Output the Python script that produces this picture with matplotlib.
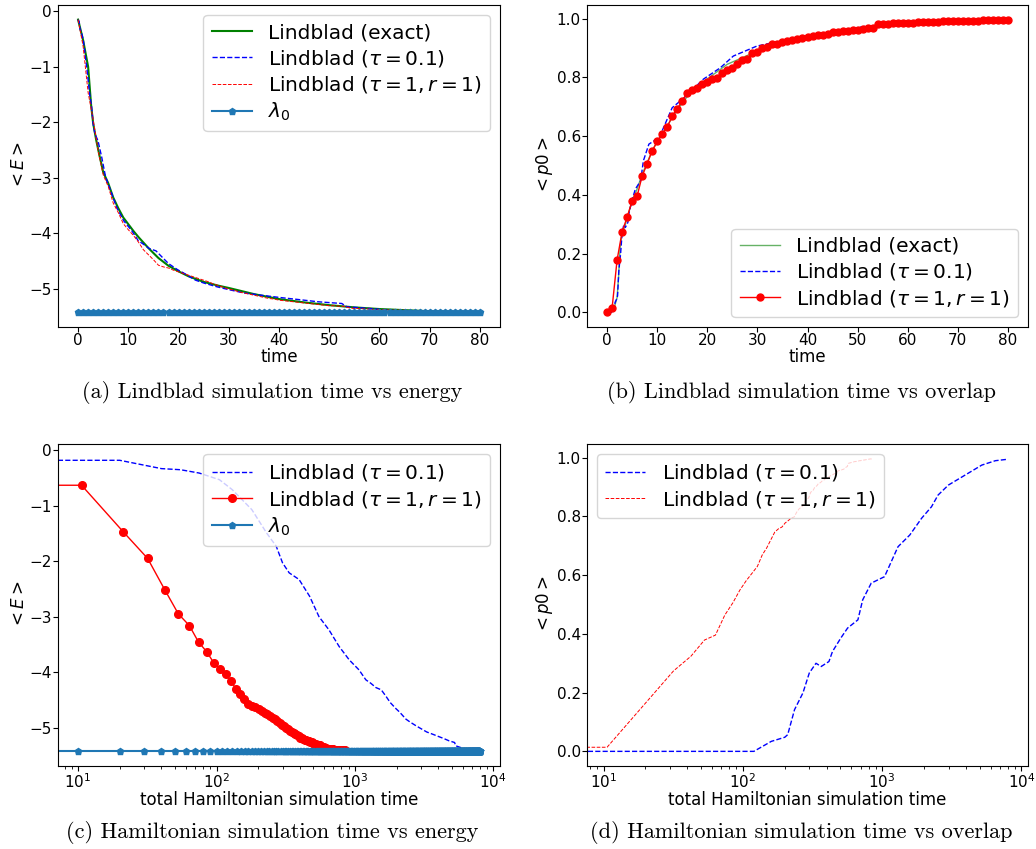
import numpy as np
import matplotlib
matplotlib.use("Agg")
import matplotlib.pyplot as plt

# ---- data ----
lambda0 = -5.43

# exact Lindblad energy
t_exact = [0, 1, 2, 2.3, 2.6, 3, 3.6, 4.3, 5, 6, 7, 8, 9, 10, 11, 12, 14, 16, 18, 20,
           22, 25, 28, 30, 35, 40, 45, 50, 55, 60, 65, 70, 75, 80]
E_exact = [-0.15, -0.52, -1.0, -1.35, -1.7, -2.02, -2.32, -2.62, -2.9, -3.1, -3.36, -3.55,
           -3.72, -3.84, -3.96, -4.07, -4.27, -4.45, -4.59, -4.69, -4.78, -4.88, -4.95,
           -4.99, -5.1, -5.19, -5.25, -5.3, -5.34, -5.37, -5.39, -5.41, -5.42, -5.42]

# tau = 0.1 energy
t_tau01_E = [0, 0.1, 0.2, 0.4, 0.55, 0.75, 1.05, 1.3, 1.8, 2.3, 2.7, 3.0, 3.35, 3.95, 4.7,
             5.5, 6.5, 7.7, 9.1, 10.7, 12.0, 13.0, 14.2, 15.5, 16.8, 18.0, 19.8, 21.0,
             23.4, 25.0, 27.7, 30.0, 33.0, 36.4, 40.0, 44.0, 47.9, 52.5, 53.5, 58.0,
             63.0, 70.0, 80.0]
E_tau01 = [-0.15, -0.18, -0.18, -0.33, -0.35, -0.41, -0.53, -0.71, -1.07, -1.49, -1.73,
           -2.03, -2.21, -2.33, -2.63, -3.0, -3.24, -3.54, -3.78, -3.96, -4.14, -4.2,
           -4.28, -4.32, -4.44, -4.55, -4.66, -4.72, -4.85, -4.9, -4.97, -5.02, -5.08,
           -5.12, -5.16, -5.2, -5.24, -5.27, -5.33, -5.36, -5.40, -5.42, -5.43]

# tau = 1, r = 1 energy at t = 0..80
t_tau1 = list(range(81))
E_tau1 = [-0.15, -0.63, -1.47, -1.95, -2.52, -2.95, -3.16, -3.46, -3.63, -3.83,
          -3.94, -4.04, -4.16, -4.30, -4.39, -4.48, -4.58, -4.61, -4.63, -4.67,
          -4.70, -4.73, -4.76, -4.79, -4.82, -4.85, -4.88, -4.92, -4.95, -4.98,
          -5.01, -5.03, -5.06, -5.08, -5.10, -5.12, -5.14, -5.16, -5.18, -5.19,
          -5.21, -5.22, -5.23, -5.24, -5.25, -5.26, -5.27, -5.28, -5.29, -5.30,
          -5.31, -5.31, -5.32, -5.32, -5.35, -5.36, -5.36, -5.37, -5.37, -5.38,
          -5.38, -5.38, -5.39, -5.39, -5.39, -5.39, -5.40, -5.40, -5.40, -5.40,
          -5.40, -5.40, -5.41, -5.41, -5.41, -5.41, -5.41, -5.41, -5.41, -5.41, -5.41]

# overlap
t_exact_p = [0, 1, 1.5, 2, 2.3, 2.6, 3, 3.5, 4, 5, 6, 7, 8, 9, 10, 12, 14, 16, 18, 20,
             22, 24, 26, 28, 30, 35, 40, 45, 50, 55, 60, 65, 70, 75, 80]
p_exact = [0, 0.01, 0.02, 0.05, 0.12, 0.22, 0.27, 0.29, 0.32, 0.38, 0.42, 0.47, 0.51,
           0.55, 0.58, 0.635, 0.69, 0.735, 0.77, 0.795, 0.82, 0.845, 0.86, 0.875, 0.89,
           0.915, 0.935, 0.95, 0.962, 0.975, 0.984, 0.989, 0.992, 0.995, 0.997]

t_tau01_p = [0, 1.2, 1.6, 2.0, 2.1, 2.35, 2.7, 3.0, 3.35, 3.65, 4.15, 4.4, 5.05, 5.65,
             6.7, 7.25, 8.35, 10.4, 13.0, 15.8, 19.2, 22.6, 25.2, 29.9, 39.4, 51.9, 65, 80]
p_tau01 = [0, 0.0, 0.034, 0.048, 0.057, 0.142, 0.199, 0.267, 0.30, 0.289, 0.306, 0.34,
           0.386, 0.42, 0.448, 0.516, 0.573, 0.595, 0.697, 0.737, 0.794, 0.833, 0.873,
           0.907, 0.941, 0.975, 0.99, 0.995]

p_tau1 = [0.0, 0.014, 0.178, 0.274, 0.324, 0.379, 0.396, 0.464, 0.506, 0.55,
          0.582, 0.607, 0.630, 0.669, 0.693, 0.721, 0.747, 0.758, 0.764, 0.778,
          0.786, 0.795, 0.798, 0.815, 0.827, 0.832, 0.847, 0.858, 0.863, 0.883,
          0.887, 0.900, 0.904, 0.913, 0.915, 0.921, 0.924, 0.929, 0.931, 0.934,
          0.938, 0.941, 0.943, 0.946, 0.948, 0.954, 0.956, 0.957, 0.958, 0.960,
          0.961, 0.965, 0.968, 0.970, 0.981, 0.982, 0.983, 0.984, 0.985, 0.986,
          0.987, 0.987, 0.988, 0.989, 0.989, 0.990, 0.990, 0.991, 0.991, 0.992,
          0.992, 0.993, 0.993, 0.994, 0.994, 0.995, 0.995, 0.996, 0.996, 0.996, 0.997]

# Hamiltonian simulation time per unit Lindblad time
cost_tau01 = 100.0
cost_tau1 = 10.6
t_grid = np.arange(0, 81, 1)          # lambda0 markers, panel (a)
t_grid_fine = np.arange(0, 801) / 10  # lambda0 markers, panel (c)

# ---- figure ----
fig = plt.figure(figsize=(10.36, 8.49), dpi=100)
W, H = 1036, 849

def make_ax(left, top, right, bottom):
    return fig.add_axes([left / W, 1 - bottom / H, (right - left) / W, (bottom - top) / H])

ax_a = make_ax(58, 5, 500, 327)
ax_b = make_ax(587, 5, 1028, 327)
ax_c = make_ax(58, 444, 500, 766)
ax_d = make_ax(587, 444, 1028, 766)

tick_fs = 11
label_fs = 12
leg = dict(fontsize=14.5, labelspacing=0.28)
lab01 = r"Lindblad ($\tau=0.1$)"
lab1 = r"Lindblad ($\tau=1,r=1$)"

# (a)
ax_a.plot(t_exact, E_exact, color="green", lw=1.5, label="Lindblad (exact)")
ax_a.plot(t_tau01_E, E_tau01, "--", color="blue", lw=1, label=lab01)
ax_a.plot(t_tau1, E_tau1, "--", color="red", lw=0.7, label=lab1)
ax_a.plot(t_grid, np.full(len(t_grid), lambda0), "-p", color="tab:blue", ms=5,
          label=r"$\lambda_0$")
ax_a.set_xlabel("time", fontsize=label_fs, labelpad=0)
ax_a.set_ylabel(r"$<E>$", fontsize=label_fs, labelpad=1)
ax_a.legend(loc="upper right", **leg)

# (b)
ax_b.plot(t_exact_p, p_exact, color="green", lw=1, alpha=0.6, label="Lindblad (exact)")
ax_b.plot(t_tau01_p, p_tau01, "--", color="blue", lw=1, label=lab01)
ax_b.plot(t_tau1, p_tau1, "-o", color="red", lw=1, ms=5, label=lab1)
ax_b.set_xlabel("time", fontsize=label_fs, labelpad=0)
ax_b.set_ylabel(r"$<p0>$", fontsize=label_fs, labelpad=1)
ax_b.legend(loc="lower right", **leg)

# (c)
ax_c.plot(np.array(t_tau01_E) * cost_tau01, E_tau01, "--", color="blue", lw=1, label=lab01)
ax_c.plot(np.array(t_tau1) * cost_tau1, E_tau1, "-o", color="red", lw=1, ms=5.5, label=lab1)
ax_c.plot(t_grid_fine * cost_tau01, np.full(len(t_grid_fine), lambda0), "-p",
          color="tab:blue", ms=5, label=r"$\lambda_0$")
ax_c.set_xscale("log")
ax_c.set_xlabel("total Hamiltonian simulation time", fontsize=label_fs, labelpad=0)
ax_c.set_ylabel(r"$<E>$", fontsize=label_fs, labelpad=1)
ax_c.legend(loc="upper right", **leg)

# (d)
ax_d.plot(np.array(t_tau01_p) * cost_tau01, p_tau01, "--", color="blue", lw=1, label=lab01)
ax_d.plot(np.array(t_tau1) * cost_tau1, p_tau1, "--", color="red", lw=0.7, label=lab1)
ax_d.set_xscale("log")
ax_d.set_xlabel("total Hamiltonian simulation time", fontsize=label_fs, labelpad=0)
ax_d.set_ylabel(r"$<p0>$", fontsize=label_fs, labelpad=1)
ax_d.legend(loc="upper left", **leg)

for ax in (ax_a, ax_b, ax_c, ax_d):
    ax.tick_params(labelsize=tick_fs, pad=1)

# captions
cap_fs = 16
fig.text(272 / W, 1 - 393 / H, "(a) Lindblad simulation time vs energy",
         fontfamily="cmr10", fontsize=cap_fs, ha="center", va="center")
fig.text(801 / W, 1 - 393 / H, "(b) Lindblad simulation time vs overlap",
         fontfamily="cmr10", fontsize=cap_fs, ha="center", va="center")
fig.text(272 / W, 1 - 832 / H, "(c) Hamiltonian simulation time vs energy",
         fontfamily="cmr10", fontsize=cap_fs, ha="center", va="center")
fig.text(801 / W, 1 - 832 / H, "(d) Hamiltonian simulation time vs overlap",
         fontfamily="cmr10", fontsize=cap_fs, ha="center", va="center")

fig.savefig("out.png", dpi=100)
